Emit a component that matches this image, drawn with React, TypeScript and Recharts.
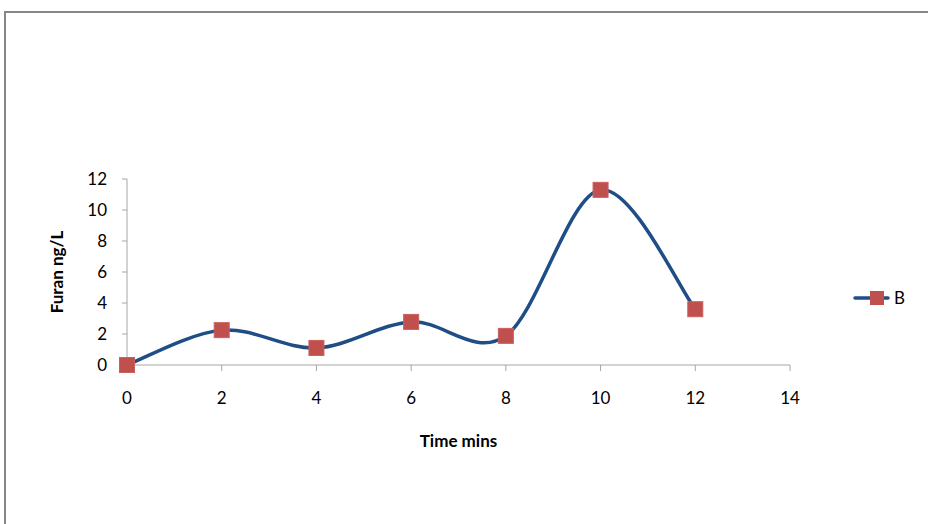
import React from "react";
import { LineChart, Line, XAxis, YAxis, Legend, Label } from "recharts";

const times = [0, 2, 4, 6, 8, 10, 12];
const furanB = [0, 2.25, 1.1, 2.78, 1.88, 11.3, 3.6];
const xTicks = [0, 2, 4, 6, 8, 10, 12, 14];
const yTicks = [0, 2, 4, 6, 8, 10, 12];
const seriesName = "B";

const data = times.map((t, i) => ({ t, B: furanB[i] }));

const LINE_COLOR = "#1F4E86";
const MARKER_COLOR = "#C0504D";
const AXIS_COLOR = "#A6A6A6";
const FONT = "Lato, 'Liberation Sans', sans-serif";

// Excel-like smoothing (Catmull-Rom as cubic Bezier, factor 1/6)
const excelCurve: any = (context: any) => {
  let pts: number[][] = [];
  return {
    areaStart() {},
    areaEnd() {},
    lineStart() {
      pts = [];
    },
    point(x: number, y: number) {
      pts.push([+x, +y]);
    },
    lineEnd() {
      if (!pts.length) return;
      context.moveTo(pts[0][0], pts[0][1]);
      for (let i = 0; i < pts.length - 1; i++) {
        const p0 = pts[i - 1] || pts[i];
        const p1 = pts[i];
        const p2 = pts[i + 1];
        const p3 = pts[i + 2] || p2;
        context.bezierCurveTo(
          p1[0] + (p2[0] - p0[0]) / 6,
          p1[1] + (p2[1] - p0[1]) / 6,
          p2[0] - (p3[0] - p1[0]) / 6,
          p2[1] - (p3[1] - p1[1]) / 6,
          p2[0],
          p2[1]
        );
      }
    },
  };
};

const SquareDot = (props: any) => {
  const { cx, cy } = props;
  if (cx == null || cy == null) return null;
  const s = 15;
  return (
    <rect
      x={cx - s / 2}
      y={cy - s / 2}
      width={s}
      height={s}
      fill={MARKER_COLOR}
      stroke="#C9605D"
      strokeWidth={1}
    />
  );
};

const LegendContent = (props: any) => {
  const { payload } = props;
  return (
    <div>
      {(payload || []).map((p: any) => (
        <svg key={p.value} width={70} height={20} style={{ overflow: "visible" }}>
          <line x1={3} y1={10} x2={36} y2={10} stroke={LINE_COLOR} strokeWidth={3.5} strokeLinecap="round" />
          <rect x={18} y={3} width={14} height={14} fill={MARKER_COLOR} />
          <text x={42} y={16} fontSize={17} fontFamily={FONT} fill="#000">
            {p.value}
          </text>
        </svg>
      ))}
    </div>
  );
};

export default function App() {
  return (
    <div style={{ position: "absolute", left: 0, top: 0, width: 928, height: 524, overflow: "hidden", background: "#fff" }}>
      <div
        style={{
          position: "absolute",
          left: 4,
          top: 11,
          width: 1000,
          height: 1000,
          borderTop: "2px solid #868686",
          borderLeft: "2px solid #868686",
        }}
      />
      <div style={{ position: "absolute", left: 0, top: 0 }}>
        <LineChart
          width={928}
          height={524}
          data={data}
          margin={{ top: 179, right: 138, bottom: 105, left: 67 }}
        >
          <XAxis
            dataKey="t"
            type="number"
            domain={[0, 14]}
            ticks={xTicks}
            stroke={AXIS_COLOR}
            tickLine={{ stroke: AXIS_COLOR }}
            tickSize={6}
            tick={{ fill: "#000", fontSize: 17, fontFamily: FONT }}
            tickMargin={21}
            height={30}
          >
            <Label
              value="Time mins"
              position="bottom"
              offset={40}
              style={{ fontWeight: "bold", fontSize: 17, fill: "#000", fontFamily: FONT }}
            />
          </XAxis>
          <YAxis
            type="number"
            domain={[0, 12]}
            ticks={yTicks}
            stroke={AXIS_COLOR}
            tickLine={{ stroke: AXIS_COLOR }}
            tickSize={5}
            tick={{ fill: "#000", fontSize: 17, fontFamily: FONT }}
            tickMargin={15}
            width={60}
          >
            <Label
              value="Furan ng/L"
              angle={-90}
              position="left"
              offset={10}
              style={{ fontWeight: "bold", fontSize: 17, fill: "#000", fontFamily: FONT, textAnchor: "middle" }}
            />
          </YAxis>
          <Legend
            content={<LegendContent />}
            wrapperStyle={{ position: "absolute", left: 852, top: 288, width: 80 }}
          />
          <Line
            dataKey="B"
            name={seriesName}
            type={excelCurve}
            stroke={LINE_COLOR}
            strokeWidth={3.5}
            dot={<SquareDot />}
            activeDot={false}
            isAnimationActive={false}
          />
        </LineChart>
      </div>
    </div>
  );
}
